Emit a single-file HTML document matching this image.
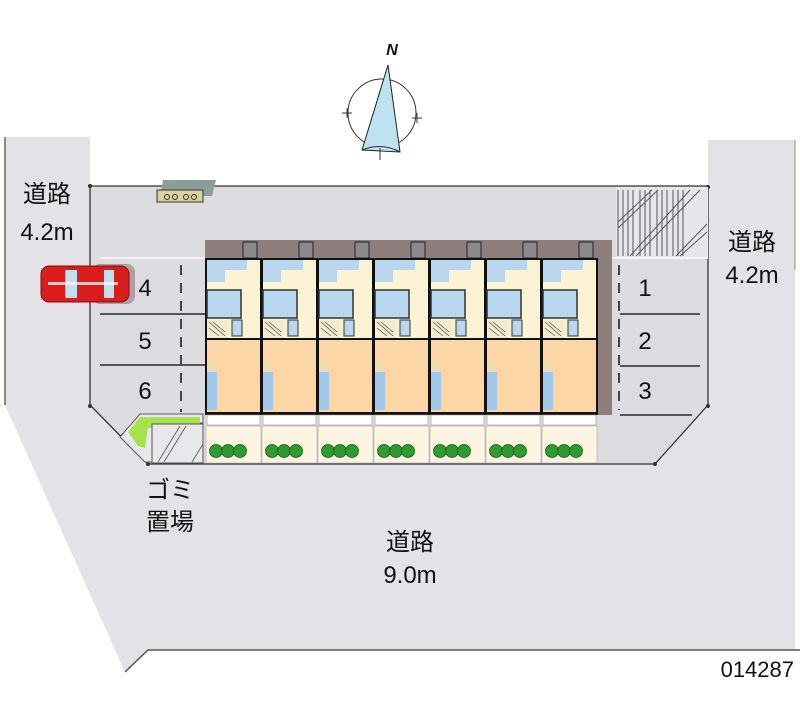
<!DOCTYPE html>
<html><head><meta charset="utf-8"><style>
html,body{margin:0;padding:0;background:#fff;width:800px;height:727px;overflow:hidden}
svg{display:block}
text{font-family:"Liberation Sans","Noto Sans CJK JP",sans-serif;fill:#111}
</style></head><body>
<svg width="800" height="727" viewBox="0 0 800 727" xmlns="http://www.w3.org/2000/svg">
<defs>
<g id="unit">
  <rect x="0" y="0" width="57" height="18" fill="#8e7e7e"/>
  <rect x="38" y="2" width="14" height="16" fill="#8a8a8a" stroke="#222" stroke-width="1"/>
  <rect x="0" y="18" width="57" height="157" fill="#111"/>
  <rect x="2" y="20" width="53" height="78" fill="#fbf3d3"/>
  <rect x="2" y="20" width="18" height="22" fill="#b8d7ee"/>
  <rect x="20" y="20" width="22" height="10" fill="#b8d7ee"/>
  <rect x="2" y="50" width="34" height="28" fill="#b8d7ee" stroke="#333" stroke-width="1.5"/>
  <rect x="2" y="80" width="22" height="18" fill="#f6ecd0"/>
  <path d="M4 82 L20 96 M4 88 L14 96 M8 82 L20 92" stroke="#555" stroke-width="0.8"/>
  <rect x="27" y="80" width="10" height="16" fill="#b8d7ee" stroke="#333" stroke-width="1"/>
  <rect x="2" y="100" width="53" height="72" fill="#fcd7a5"/>
  <rect x="2" y="132" width="10" height="38" fill="#9fc8ea"/>
  <rect x="3" y="120" width="8" height="10" fill="#eedbb0"/>
  <rect x="2" y="175" width="53" height="10" fill="#fff" stroke="#999" stroke-width="0.6"/>
  <rect x="1" y="186" width="55" height="37" fill="#fdf4e2" stroke="#aaa" stroke-width="0.6"/>
  <circle cx="11" cy="211" r="6.5" fill="#2f9a2f" stroke="#1a5a1a" stroke-width="0.8"/>
  <circle cx="23" cy="211" r="6.5" fill="#2f9a2f" stroke="#1a5a1a" stroke-width="0.8"/>
  <circle cx="35" cy="211" r="6.5" fill="#2f9a2f" stroke="#1a5a1a" stroke-width="0.8"/>
</g>
</defs>
<!-- roads -->
<rect x="5" y="137" width="85" height="270" fill="#e4e2e7"/>
<polygon points="5,405 90,405 148,464 655,464 708,405 708,140 795,140 795,650 148,650 125,672" fill="#e4e2e7"/>
<line x1="5" y1="137" x2="5" y2="405" stroke="#666" stroke-width="1.5"/>
<line x1="795" y1="140" x2="795" y2="270" stroke="#888" stroke-width="1"/>
<polyline points="800,650 148,650 125,672" fill="none" stroke="#555" stroke-width="1.5"/>
<!-- lot -->
<polygon points="90,186 708,186 708,405 655,464 148,464 90,405" fill="#dcdbe0"/>
<polyline points="708,186 90,186 90,405 148,464 655,464 708,405 708,186" fill="none" stroke="#333" stroke-width="1.3"/>
<g fill="#333"><circle cx="90" cy="186" r="2"/><circle cx="90" cy="406" r="2"/><circle cx="148" cy="464" r="2"/><circle cx="655" cy="464" r="2"/><circle cx="708" cy="406" r="2"/><circle cx="708" cy="187" r="2"/></g>
<!-- hatched area -->
<rect x="616" y="187" width="92" height="70" fill="#e8e6ea"/>
<g stroke="#555" stroke-width="1">
<path d="M618 190V256M623 190V256M628 190V256M633 190V256M640 190V256M645 190V256M650 190V256M657 190V256M662 190V256M667 190V256M673 190V256M678 190V256M683 190V256"/>
<path d="M618 222L652 190M618 228L658 190M630 256L690 190M636 256L700 190M676 256L707 224M680 256L707 232"/>
</g>
<line x1="600" y1="258" x2="708" y2="258" stroke="#f4f4f6" stroke-width="2"/>
<!-- right spaces -->
<g stroke="#555" stroke-width="2"><line x1="620" y1="314" x2="700" y2="314"/><line x1="620" y1="366" x2="700" y2="366"/><line x1="620" y1="415" x2="692" y2="415"/></g>
<line x1="619" y1="265" x2="619" y2="410" stroke="#444" stroke-width="2" stroke-dasharray="10,8"/>
<text x="645" y="296" font-size="24" text-anchor="middle">1</text>
<text x="645" y="349" font-size="24" text-anchor="middle">2</text>
<text x="645" y="399" font-size="24" text-anchor="middle">3</text>
<!-- left spaces -->
<line x1="100" y1="258" x2="205" y2="258" stroke="#f4f4f6" stroke-width="2"/>
<g stroke="#555" stroke-width="2"><line x1="100" y1="314" x2="205" y2="314"/><line x1="100" y1="365" x2="205" y2="365"/></g>
<line x1="181" y1="265" x2="181" y2="412" stroke="#444" stroke-width="2" stroke-dasharray="10,8"/>
<text x="145" y="296" font-size="24" text-anchor="middle">4</text>
<text x="145" y="349" font-size="24" text-anchor="middle">5</text>
<text x="145" y="399" font-size="24" text-anchor="middle">6</text>
<!-- car -->
<rect x="92" y="264" width="43" height="40" rx="8" fill="#9a8888" opacity="0.7"/>
<rect x="41" y="266" width="88" height="36" rx="8" fill="#d91c1c" stroke="#801010" stroke-width="1"/>
<rect x="65" y="270" width="12" height="28" fill="#bfe0ec"/>
<rect x="104" y="270" width="10" height="28" fill="#bfe0ec"/>
<rect x="48" y="282" width="70" height="3" fill="#fff" opacity="0.7"/>
<!-- building shadow -->
<rect x="598" y="240" width="14" height="175" fill="#8e7e7e"/>
<polygon points="205,258 215,240 598,240 598,258" fill="#8e7e7e"/>
<g>
<use href="#unit" x="205" y="240"/><use href="#unit" x="261" y="240"/><use href="#unit" x="317" y="240"/>
<use href="#unit" x="373" y="240"/><use href="#unit" x="429" y="240"/><use href="#unit" x="485" y="240"/>
<use href="#unit" x="541" y="240"/>
</g>
<rect x="598" y="415" width="10" height="48" fill="#dcdbe0"/>
<!-- trash area -->
<polygon points="140,414 203,414 203,423 152,423 152,462 145,462 120,437" fill="#e9e9ec" stroke="#555" stroke-width="1"/>
<polygon points="128,432 140,417 200,417 200,428 148,428 145,448 138,446" fill="#a6e24a"/>
<rect x="152" y="424" width="51" height="39" fill="#e8e7eb" stroke="#555" stroke-width="1"/>
<path d="M158 462L180 426M164 462L186 426M192 462L203 444" stroke="#666" stroke-width="1"/>
<!-- small object top -->
<polygon points="163,180 216,180 212,196 160,196" fill="#8c9e9a"/>
<rect x="157" y="190" width="46" height="12" fill="#d9d2a0" stroke="#333" stroke-width="1"/>
<g fill="none" stroke="#333" stroke-width="1"><circle cx="167" cy="197" r="2.5"/><circle cx="175" cy="197" r="2.5"/><circle cx="186" cy="197" r="2.5"/><circle cx="194" cy="197" r="2.5"/></g>
<!-- compass -->
<circle cx="382" cy="113" r="34" fill="none" stroke="#333" stroke-width="1"/>
<polygon points="388,65 362,150 400,152" fill="#bde3f0" stroke="#222" stroke-width="1"/>
<path d="M362 150Q381 142 400 152" fill="none" stroke="#333"/>
<path d="M342 113h10M347 108v10M412 118h10M417 113v10M380 148v12" stroke="#333" stroke-width="1"/>
<text x="392" y="55" font-size="16" font-weight="bold" font-style="italic" font-family="Liberation Serif,serif" text-anchor="middle">N</text>
<!-- labels -->
<text x="47" y="202" font-size="24" text-anchor="middle">道路</text>
<text x="47" y="240" font-size="24" text-anchor="middle">4.2m</text>
<text x="752" y="250" font-size="24" text-anchor="middle">道路</text>
<text x="752" y="283" font-size="24" text-anchor="middle">4.2m</text>
<text x="170" y="498" font-size="24" text-anchor="middle">ゴミ</text>
<text x="170" y="530" font-size="24" text-anchor="middle">置場</text>
<text x="410" y="550" font-size="24" text-anchor="middle">道路</text>
<text x="410" y="583" font-size="24" text-anchor="middle">9.0m</text>
<text x="794" y="677" font-size="22" text-anchor="end">014287</text>
</svg>
</body></html>
